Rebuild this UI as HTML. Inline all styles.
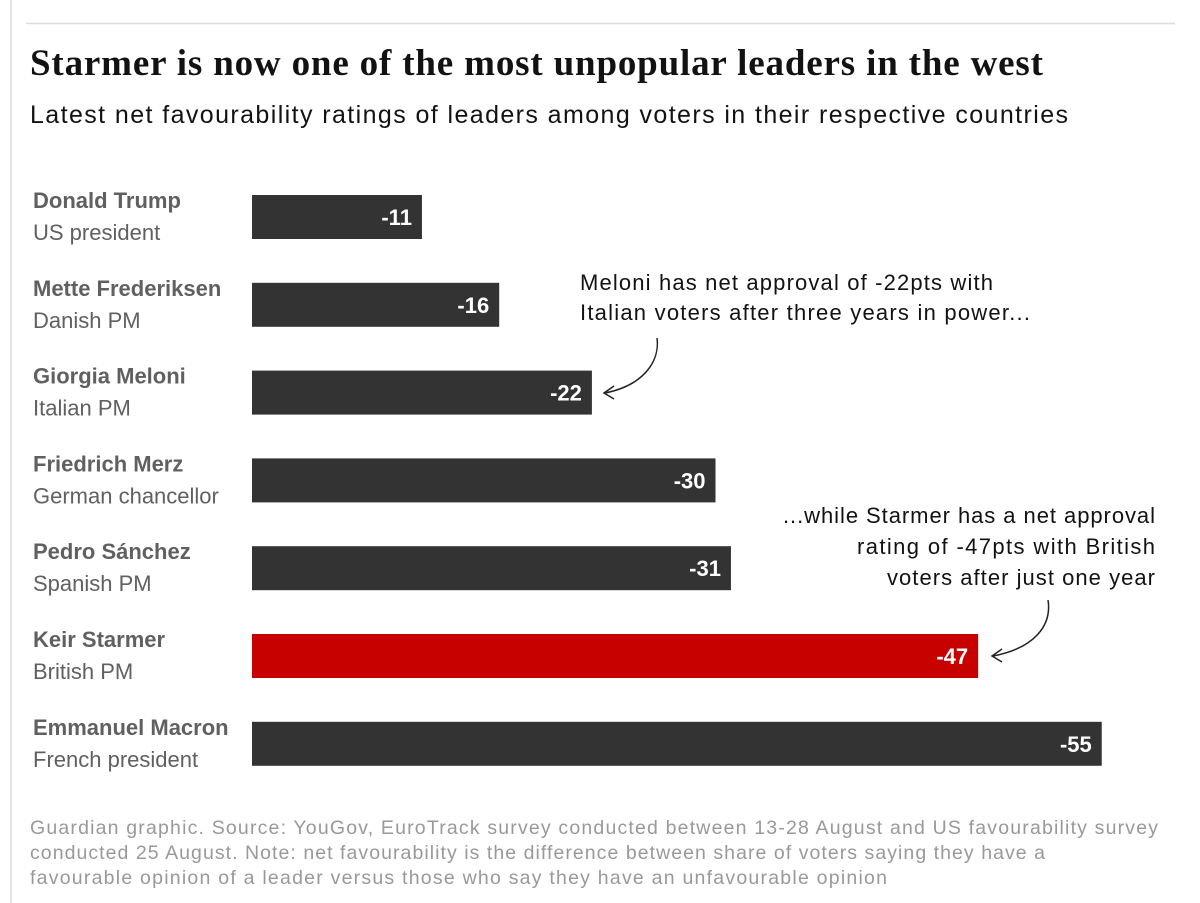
<!DOCTYPE html>
<html><head><meta charset="utf-8"><style>
html,body{margin:0;padding:0;background:#fff;}
svg{display:block;}
text{font-family:"Liberation Sans",sans-serif;}
</style></head><body>
<svg id="chart" width="1200" height="903" viewBox="0 0 1200 903">
<line x1="11" y1="0" x2="11" y2="903" stroke="#dcdcdc" stroke-width="1.5"/>
<line x1="26" y1="23.5" x2="1175" y2="23.5" stroke="#dcdcdc" stroke-width="1.5"/>
<text x="30" y="75" font-weight="bold" font-size="37" fill="#121212" style="font-family:'Liberation Serif',serif" textLength="1013">Starmer is now one of the most unpopular leaders in the west</text>
<text x="30" y="123" font-size="25" fill="#121212" textLength="1038">Latest net favourability ratings of leaders among voters in their respective countries</text>
<g id="bars"></g>
<g>
<text x="580" y="290" font-size="22" fill="#121212" textLength="413">Meloni has net approval of -22pts with</text>
<text x="580" y="320" font-size="22" fill="#121212" textLength="450">Italian voters after three years in power...</text>
<path d="M657 338 C660 360 645 385 605 393" fill="none" stroke="#222" stroke-width="1.5"/>
<path d="M614 386 L604 393 L614 399" fill="none" stroke="#222" stroke-width="1.5"/>
</g>
<g>
<text x="1155" y="523" font-size="22" fill="#121212" text-anchor="end" textLength="372">...while Starmer has a net approval</text>
<text x="1155" y="554" font-size="22" fill="#121212" text-anchor="end" textLength="298">rating of -47pts with British</text>
<text x="1155" y="585" font-size="22" fill="#121212" text-anchor="end" textLength="268">voters after just one year</text>
<path d="M1048 600 C1052 625 1035 648 993 656" fill="none" stroke="#222" stroke-width="1.5"/>
<path d="M1002 649 L992 656 L1002 662" fill="none" stroke="#222" stroke-width="1.5"/>
</g>
<g font-size="19.5" fill="#999">
<text x="30" y="834" textLength="1128">Guardian graphic. Source: YouGov, EuroTrack survey conducted between 13-28 August and US favourability survey</text>
<text x="30" y="859" textLength="1015">conducted 25 August. Note: net favourability is the difference between share of voters saying they have a</text>
<text x="30" y="884" textLength="857">favourable opinion of a leader versus those who say they have an unfavourable opinion</text>
</g>
</svg>
<script>
const names = ["Donald Trump","Mette Frederiksen","Giorgia Meloni","Friedrich Merz","Pedro Sánchez","Keir Starmer","Emmanuel Macron"];
const roles = ["US president","Danish PM","Italian PM","German chancellor","Spanish PM","British PM","French president"];
const values = [-11,-16,-22,-30,-31,-47,-55];
const highlight = [false,false,false,false,false,true,false];

const x0 = 252, pxPer = 15.45;
const xScale = v => x0 + Math.abs(v) * pxPer;
const yScale = i => 195 + i * 87.8;
const NS = "http://www.w3.org/2000/svg";
const g = document.getElementById('bars');
function mk(tag, attrs, txt){const e=document.createElementNS(NS,tag);for(const k in attrs)e.setAttribute(k,attrs[k]);if(txt!==undefined)e.textContent=txt;return e;}
values.forEach((v,i)=>{
  const y = yScale(i);
  const name = mk('text',{x:33,y:y+13,'font-size':22,'font-weight':'bold',fill:'#606060'},names[i]);
  
  
  g.appendChild(name);
  const role = mk('text',{x:33,y:y+45,'font-size':22,fill:'#606060'},roles[i]);
  
  
  g.appendChild(role);
  const bar = mk('rect',{x:x0,y:y,width:xScale(v)-x0,height:44,fill:highlight[i]?'#c70000':'#333333'});
  
  
  g.appendChild(bar);
  const lab = mk('text',{x:xScale(v)-10,y:y+30,'font-size':22,'font-weight':'bold',fill:'#fff','text-anchor':'end'},String(v));
  
  
  g.appendChild(lab);
});
</script>
</body></html>
